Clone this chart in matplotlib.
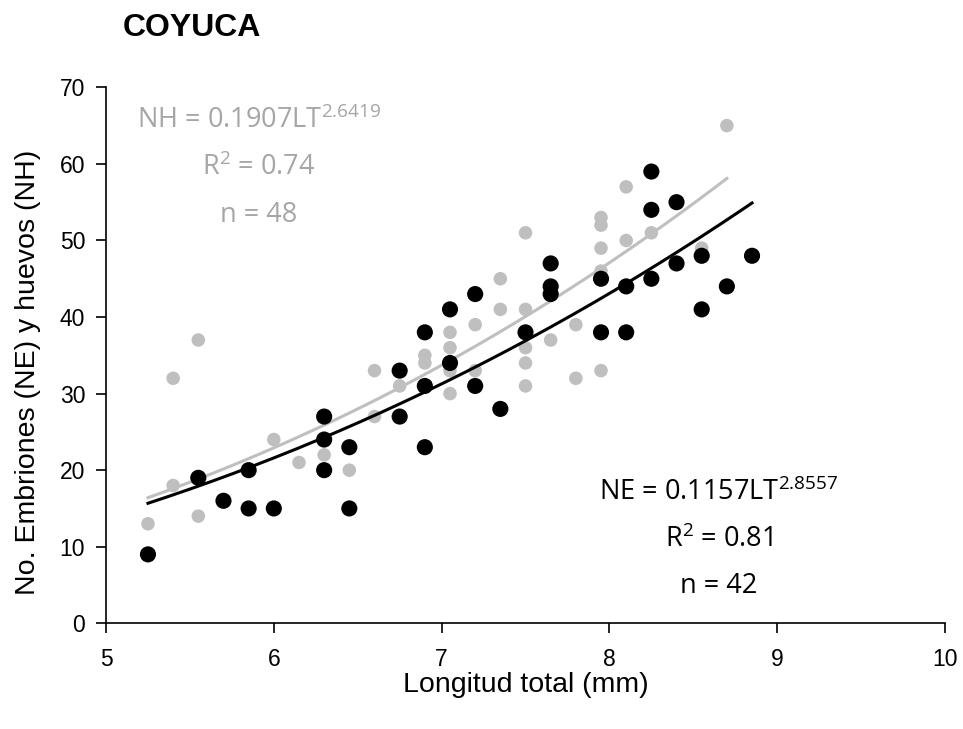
import numpy as np
import matplotlib.pyplot as plt

plt.rcParams['mathtext.fontset'] = 'custom'
plt.rcParams['mathtext.rm'] = 'Open Sans'
plt.rcParams['mathtext.it'] = 'Open Sans'

# Longitud total (mm) vs numero de huevos (NH, gris) y embriones (NE, negro)
nh_lt = [5.25, 5.4, 5.4, 5.55, 5.55, 6.0, 6.15, 6.3, 6.45, 6.6, 6.6, 6.75,
         6.9, 6.9, 7.05, 7.05, 7.05, 7.05, 7.2, 7.2, 7.35, 7.35,
         7.5, 7.5, 7.5, 7.5, 7.5, 7.65, 7.8, 7.8,
         7.95, 7.95, 7.95, 7.95, 7.95, 8.1, 8.1, 8.25, 8.55, 8.7]
nh_val = [13, 32, 18, 37, 14, 24, 21, 22, 20, 33, 27, 31,
          35, 34, 38, 36, 33, 30, 39, 33, 45, 41,
          51, 41, 36, 34, 31, 37, 39, 32,
          53, 52, 49, 46, 33, 57, 50, 51, 49, 65]

ne_lt = [5.25, 5.55, 5.7, 5.85, 5.85, 6.0, 6.3, 6.3, 6.3, 6.45, 6.45,
         6.75, 6.75, 6.9, 6.9, 6.9, 7.05, 7.05, 7.2, 7.2, 7.35, 7.5,
         7.65, 7.65, 7.65, 7.95, 7.95, 8.1, 8.1, 8.25, 8.25, 8.25,
         8.4, 8.4, 8.55, 8.55, 8.7, 8.85]
ne_val = [9, 19, 16, 20, 15, 15, 27, 24, 20, 23, 15,
          33, 27, 38, 31, 23, 41, 34, 43, 31, 28, 38,
          47, 44, 43, 45, 38, 44, 38, 59, 54, 45,
          55, 47, 48, 41, 44, 48]

# curvas de tendencia potencial (como se ven dibujadas)
nh_fit = (0.258, 2.504, 5.25, 8.7)
ne_fit = (0.293, 2.40, 5.25, 8.85)

grey_pt = '#bfbfbf'
grey_txt = '#a6a6a6'
lab_font = 'Liberation Sans'
tf = 'Open Sans'

fig = plt.figure(figsize=(9.63, 7.29), dpi=100)
ax = fig.add_axes([0.1101, 0.145, 0.8712, 0.7352])

ax.scatter(nh_lt, nh_val, s=95, color=grey_pt, edgecolors='none', zorder=2)
ax.scatter(ne_lt, ne_val, s=135, color='black', edgecolors='none', zorder=3)

a, b, x0, x1 = nh_fit
xx = np.linspace(x0, x1, 200)
ax.plot(xx, a * xx ** b, color=grey_pt, lw=2.2, zorder=2.5)
a, b, x0, x1 = ne_fit
xx = np.linspace(x0, x1, 200)
ax.plot(xx, a * xx ** b, color='black', lw=2.2, zorder=3.5)

ax.set_xlim(5, 10)
ax.set_ylim(0, 70)
ax.set_xticks([5, 6, 7, 8, 9, 10])
ax.set_yticks(range(0, 71, 10))
for s in ['top', 'right']:
    ax.spines[s].set_visible(False)
for s in ['left', 'bottom']:
    ax.spines[s].set_linewidth(1.2)
ax.tick_params(direction='out', length=7, width=1.2, labelsize=16.5)
ax.tick_params(axis='x', pad=11)
ax.tick_params(axis='y', pad=8)
for lab in ax.get_xticklabels() + ax.get_yticklabels():
    lab.set_family(lab_font)

ax.set_xlabel('Longitud total (mm)', fontsize=20.5, family=lab_font, va='top')
ax.set_ylabel('No. Embriones (NE) y huevos (NH)', fontsize=20.5, family=lab_font)
ax.xaxis.set_label_coords(0.5, -0.091)
ax.yaxis.set_label_coords(-0.077, 0.468)

fig.text(0.127, 0.962, 'COYUCA', fontsize=23, fontweight='bold',
         family=lab_font, va='center', ha='left')

fs = 19.5
ax.text(5.912, 64.7, r'NH = 0.1907LT$^{\mathrm{2.6419}}$', fontsize=fs,
        color=grey_txt, family=tf, ha='center', va='baseline')
ax.text(5.912, 58.55, r'R$^{\mathrm{2}}$ = 0.74', fontsize=fs, color=grey_txt,
        family=tf, ha='center', va='baseline')
ax.text(5.912, 52.45, 'n = 48', fontsize=fs, color=grey_txt,
        family=tf, ha='center', va='baseline')

ax.text(8.653, 16.1, r'NE = 0.1157LT$^{\mathrm{2.8557}}$', fontsize=fs,
        color='black', family=tf, ha='center', va='baseline')
ax.text(8.653, 9.96, r'R$^{\mathrm{2}}$ = 0.81', fontsize=fs, color='black',
        family=tf, ha='center', va='baseline')
ax.text(8.653, 3.96, 'n = 42', fontsize=fs, color='black',
        family=tf, ha='center', va='baseline')

fig.savefig('out.png', dpi=100)
